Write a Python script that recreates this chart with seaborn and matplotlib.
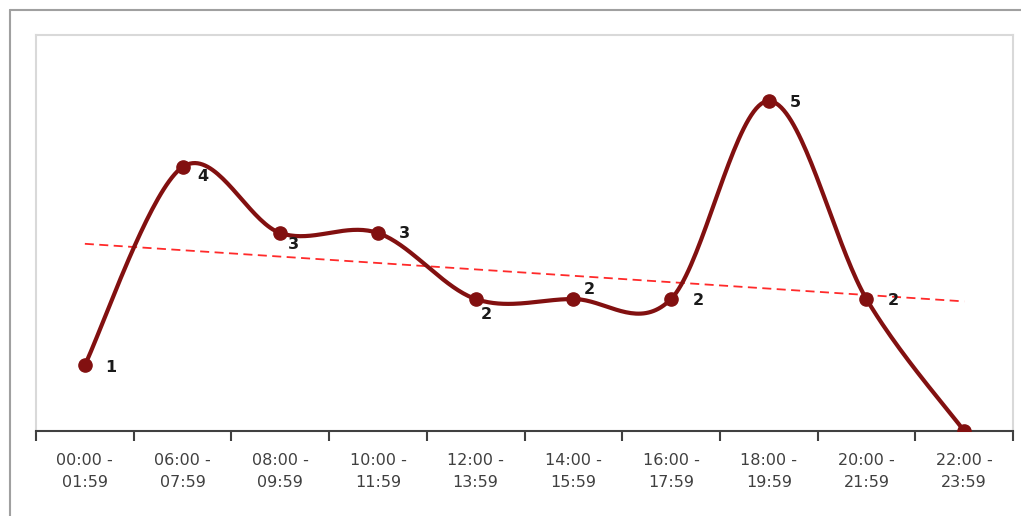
import numpy as np
import pandas as pd
import matplotlib
matplotlib.use("Agg")
import matplotlib.pyplot as plt
from matplotlib.lines import Line2D
import seaborn as sns

categories = ["00:00 -\n01:59", "06:00 -\n07:59", "08:00 -\n09:59", "10:00 -\n11:59",
              "12:00 -\n13:59", "14:00 -\n15:59", "16:00 -\n17:59", "18:00 -\n19:59",
              "20:00 -\n21:59", "22:00 -\n23:59"]
values = [1, 4, 3, 3, 2, 2, 2, 5, 2, 0]
# label offsets in points (dx, dy)
label_offsets = [(19, -1.5), (14.5, -6.5), (9.5, -8), (19, 0), (8, -11.5), (11.5, 7),
                 (19.5, -1), (19, -1), (19, -1), None]

sns.set_theme(style="white")
plt.rcParams['font.family'] = ['DejaVu Sans']

W, H, DPI = 1021, 516, 100
fig = plt.figure(figsize=(W / DPI, H / DPI), dpi=DPI)
ax = fig.add_axes([36 / W, (516 - 431) / H, (1013 - 36) / W, (431 - 35) / H])

x = np.arange(len(values), dtype=float)
y = np.array(values, dtype=float)

# Excel-like smoothed curve (Catmull-Rom via cubic Bezier)
def smooth(xs, ys, n=40):
    px, py = [], []
    N = len(xs)
    for i in range(N - 1):
        i0 = max(i - 1, 0); i3 = min(i + 2, N - 1)
        p0 = np.array([xs[i], ys[i]]); p3 = np.array([xs[i + 1], ys[i + 1]])
        c1 = p0 + (np.array([xs[i + 1], ys[i + 1]]) - np.array([xs[i0], ys[i0]])) / 6
        c2 = p3 - (np.array([xs[i3], ys[i3]]) - np.array([xs[i], ys[i]])) / 6
        t = np.linspace(0, 1, n)[:, None]
        pts = (1 - t) ** 3 * p0 + 3 * (1 - t) ** 2 * t * c1 + 3 * (1 - t) * t ** 2 * c2 + t ** 3 * p3
        if i > 0:
            pts = pts[1:]
        px.extend(pts[:, 0]); py.extend(pts[:, 1])
    return np.array(px), np.array(py)

sx, sy = smooth(x, y)
curve = pd.DataFrame({"x": sx, "y": sy})
pts = pd.DataFrame({"x": x, "y": y})
color = "#821010"

sns.regplot(data=pts, x="x", y="y", ax=ax, scatter=False, ci=None, truncate=True,
            line_kws=dict(color="#ff2a2a", lw=1.3, ls=(0, (5, 3))))
sns.lineplot(data=curve, x="x", y="y", ax=ax, sort=False, estimator=None,
             color=color, lw=3.0)
ax.plot(x, y, 'o', color=color, ms=9.5, zorder=5)

for xi, yi, off in zip(x, y, label_offsets):
    if off is None:
        continue
    ax.annotate(f"{int(yi)}", (xi, yi), xytext=off, textcoords="offset points",
                ha="center", va="center", fontsize=11.5, fontweight="bold", color="#1a1a1a")

ax.set_xlim(-0.5, len(values) - 0.5)
ax.set_ylim(0, 6)
ax.set_xlabel(""); ax.set_ylabel("")
ax.set_yticks([])
ax.set_xticks(x)
ax.set_xticklabels(categories, fontsize=11.5, color="#404040", linespacing=1.55)
ax.set_xticks(np.arange(-0.5, len(values), 1.0), minor=True)
ax.tick_params(axis="x", which="major", length=0, pad=16)
ax.tick_params(axis="x", which="minor", length=7, width=1.5, color="#404040", direction="out", bottom=True)
for s in ["left", "top", "right"]:
    ax.spines[s].set_color("#d9d9d9")
    ax.spines[s].set_linewidth(1.5)
ax.spines["bottom"].set_color("#404040")
ax.spines["bottom"].set_linewidth(1.5)

# outer chart border (top and left)
fig.add_artist(Line2D([10 / W, 1.0], [1 - 10 / H, 1 - 10 / H], transform=fig.transFigure, color="#a0a0a0", lw=1.5))
fig.add_artist(Line2D([10 / W, 10 / W], [0, 1 - 10 / H], transform=fig.transFigure, color="#a0a0a0", lw=1.5))

fig.savefig("out.png", dpi=DPI)
